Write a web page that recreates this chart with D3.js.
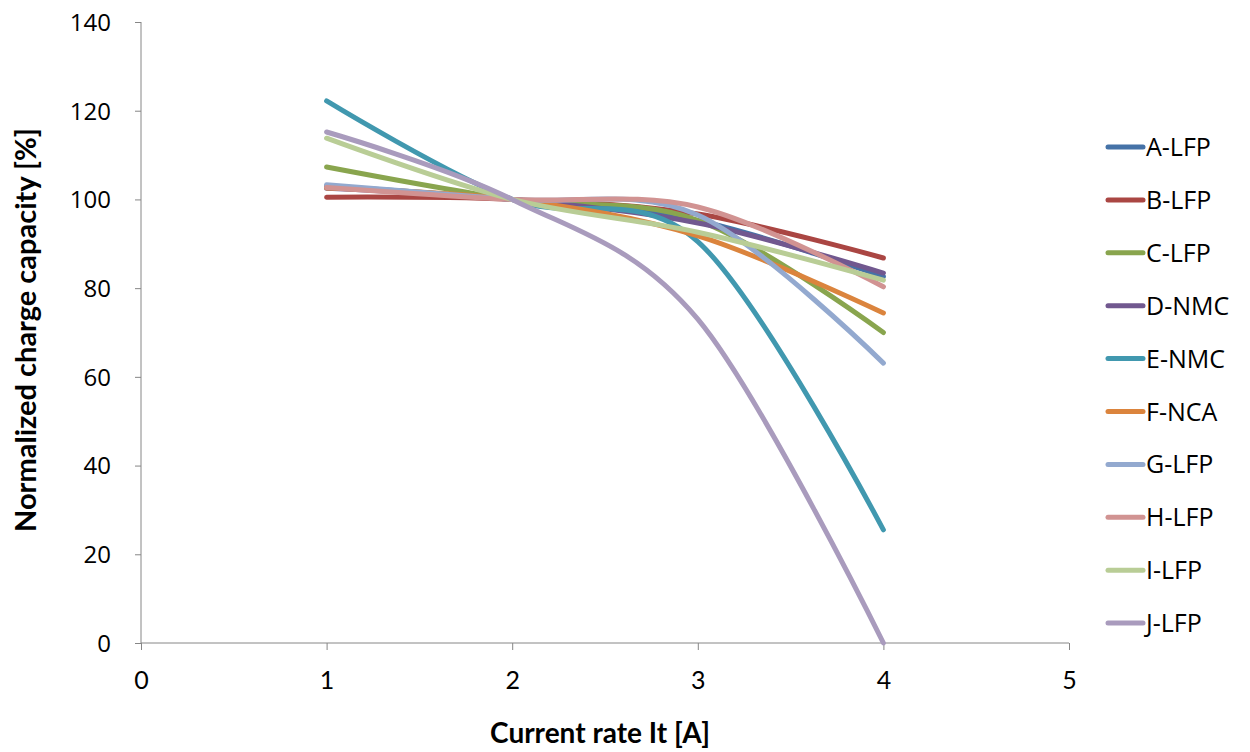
<!DOCTYPE html>
<html><head><meta charset="utf-8">
<script src="https://cdn.jsdelivr.net/npm/d3@7"></script>
<style>body{margin:0;background:#fff;}</style>
</head><body><svg id="c" width="1250" height="752"></svg>
<script>
const xValues = [1, 2, 3, 4];
const seriesNames = ["A-LFP","B-LFP","C-LFP","D-NMC","E-NMC","F-NCA","G-LFP","H-LFP","I-LFP","J-LFP"];
const seriesColors = ["#4572A7","#AA4643","#89A54E","#71588F","#4198AF","#DB843D","#93A9CF","#D19392","#B9CD96","#A99BBD"];
const A_LFP = [103.0, 100, 95.2, 82.6];
const B_LFP = [100.5, 100, 96.7, 86.8];
const C_LFP = [107.3, 100, 95.3, 70.0];
const D_NMC = [102.5, 100, 94.7, 83.4];
const E_NMC = [122.2, 100, 90.5, 25.5];
const F_NCA = [102.6, 100, 91.8, 74.4];
const G_LFP = [103.3, 100, 96.5, 63.1];
const H_LFP = [102.7, 100, 98.3, 80.3];
const I_LFP = [113.8, 100, 92.6, 81.8];
const J_LFP = [115.2, 100, 73.0, 0.0];
const seriesValues = [A_LFP,B_LFP,C_LFP,D_NMC,E_NMC,F_NCA,G_LFP,H_LFP,I_LFP,J_LFP];
const xTicks = [0,1,2,3,4,5];
const yTicks = [0,20,40,60,80,100,120,140];

const svg = d3.select("#c");
const x = d3.scaleLinear().domain([0,5]).range([141,1069]);
const y = d3.scaleLinear().domain([0,140]).range([643,22]);

// axes
const yAxis = d3.axisLeft(y).tickValues(yTicks).tickSize(6).tickFormat(d3.format("d"));
const gy = svg.append("g").attr("transform","translate(141,0)").call(yAxis);
gy.selectAll("path,line").attr("stroke","#868686");
gy.select(".domain").attr("d","M0,22V643");
gy.selectAll("text").attr("font-family","'Open Sans', 'DejaVu Sans', sans-serif").attr("font-size",24).attr("fill","#000").attr("x",-30).attr("dy","0.35em");

const xAxis = d3.axisBottom(x).tickValues(xTicks).tickSize(7).tickFormat(d3.format("d"));
const gx = svg.append("g").attr("transform","translate(0,643)").call(xAxis);
gx.selectAll("path,line").attr("stroke","#868686");
gx.select(".domain").attr("d","M141,0H1069");
gx.selectAll("text").attr("font-family","Lato, 'Liberation Sans', sans-serif").attr("font-size",25).attr("fill","#000").attr("y",37).attr("dy","0.35em");

// titles
svg.append("text").attr("x",600).attr("y",743).attr("text-anchor","middle")
  .attr("font-family","Lato, 'Liberation Sans', sans-serif").attr("font-weight","bold").attr("font-size",28).text("Current rate It [A]");
svg.append("text").attr("transform","translate(36,330) rotate(-90)").attr("text-anchor","middle")
  .attr("font-family","Lato, 'Liberation Sans', sans-serif").attr("font-weight","bold").attr("font-size",29).text("Normalized charge capacity [%]");

// lines
const line = d3.line().x((d,i)=>x(xValues[i])).y(d=>y(d)).curve(d3.curveCardinal.tension(0));
svg.append("g").selectAll("path").data(seriesValues).join("path")
  .attr("d",d=>line(d)).attr("fill","none").attr("stroke",(d,i)=>seriesColors[i])
  .attr("stroke-width",5).attr("stroke-linecap","round").attr("stroke-linejoin","round");

// legend
const leg = svg.append("g");
seriesNames.forEach((n,i)=>{
  const yy = 147 + i*52.9;
  leg.append("line").attr("x1",1108).attr("x2",1143).attr("y1",yy).attr("y2",yy)
    .attr("stroke",seriesColors[i]).attr("stroke-width",5).attr("stroke-linecap","round");
  leg.append("text").attr("x",1146).attr("y",yy).attr("dy","0.36em")
    .attr("font-family","'Open Sans', 'DejaVu Sans', sans-serif").attr("font-size",25).attr("fill","#000").text(n);
});
</script></body></html>
